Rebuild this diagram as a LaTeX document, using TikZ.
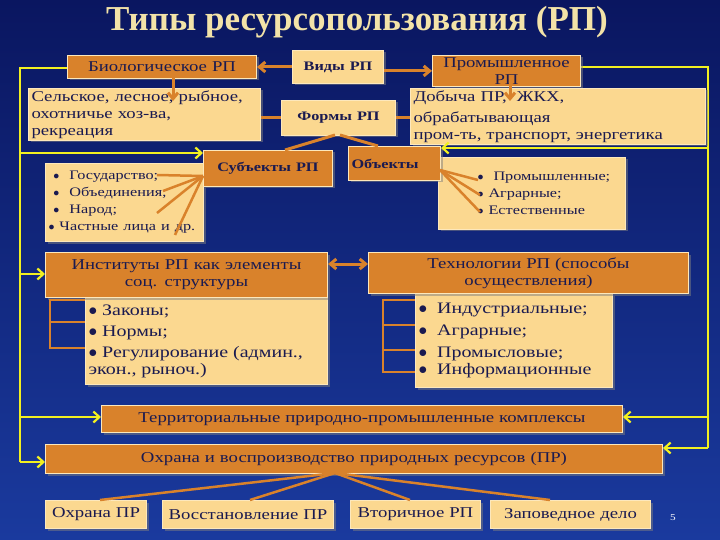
\documentclass[tikz,border=0pt]{standalone}
\usepackage{fontspec}
\setmainfont{Liberation Serif}[FakeStretch=1.25]
\newfontfamily\titlefont{Liberation Serif}
\usetikzlibrary{arrows.meta,shadows}
\definecolor{bgtop}{HTML}{0A1660}
\definecolor{bgbot}{HTML}{1A3A9E}
\definecolor{dk}{HTML}{D9822B}
\definecolor{lt}{HTML}{FBD890}
\definecolor{tx}{HTML}{1A1A50}
\definecolor{yl}{HTML}{F2F020}
\definecolor{ttl}{HTML}{F3E3A8}
\tikzset{
 bx/.style={draw=lt!60!white,line width=1pt,inner sep=2pt,anchor=north west,text=tx,font=\fontsize{15}{17}\selectfont,drop shadow={shadow xshift=2pt,shadow yshift=-2pt,opacity=0.5}},
 dkbox/.style={bx,fill=dk},
 ltbox/.style={bx,fill=lt},
 ol/.style={draw=dk,line width=3pt},
 oa/.style={ol,-{Straight Barb[length=6pt,width=10pt]}},
 yline/.style={draw=yl,line width=2.2pt},
 ya/.style={yline,-{Straight Barb[length=6pt,width=11pt]}},
}
\newcommand{\bxat}[7]{\node[#1,minimum width=#4pt,minimum height=#5pt,text width=#4pt-6pt,align=#6] (#2) at #3 {#7};}
\begin{document}
\begin{tikzpicture}[x=1pt,y=-1pt]
\shade[top color=bgtop,bottom color=bgbot] (0,0) rectangle (720,540);
\useasboundingbox (0,0) rectangle (720,540);
\node[text=ttl,font=\titlefont\fontsize{35}{38}\selectfont\bfseries] (title) at (357,22) {Типы ресурсопользования (РП)};
% yellow lines (behind)
\coordinate (yl1) at (20,68); \coordinate (yl2) at (20,462);
\coordinate (yr1) at (708,67); \coordinate (yr2) at (708,448);
\draw[yline] (67,68) -- (yl1) -- (yl2);
\draw[yline] (580,67) -- (yr1) -- (yr2);
% boxes
\bxat{dkbox}{bio}{(67,55)}{189}{23}{center}{Биологическое РП}
\bxat{ltbox}{vid}{(292,50)}{91}{33}{center}{\bfseries\fontsize{13}{15}\selectfont Виды РП}
\bxat{dkbox}{prom}{(432,55)}{148}{23}{center}{Промышленное РП}
\bxat{ltbox}{sel}{(28,88)}{232}{47}{left}{\fontsize{15}{21}\selectfont Сельское, лесное, рыбное,\\ охотничье хоз-ва, рекреация}
\bxat{ltbox}{form}{(281,100)}{114}{35}{center}{\bfseries\fontsize{13}{15}\selectfont Формы РП}
\bxat{ltbox}{dob}{(410,88)}{295}{47}{left}{\fontsize{15}{21}\selectfont Добыча ПР, \ ЖКХ, обрабатывающая\\ пром-ть, транспорт, энергетика}
\bxat{ltbox}{sbl}{(45,163)}{158}{78}{left}{\fontsize{13}{17}\selectfont\ $\bullet$\ \ Государство;\\ \ $\bullet$\ \ Объединения;\\ \ $\bullet$\ \ Народ;\\ $\bullet$ Частные лица и др.}
\bxat{dkbox}{sub}{(203,150)}{129}{36}{center}{\bfseries\fontsize{13}{15}\selectfont Субъекты РП}
\bxat{ltbox}{obl}{(438,157)}{187}{72}{left}{\fontsize{13}{17}\selectfont\hspace{36pt}$\bullet$\ \ Промышленные;\\ \hspace{36pt}$\bullet$ Аграрные;\\ \hspace{36pt}$\bullet$ Естественные}
\bxat{dkbox}{obj}{(348,146)}{92}{34}{left}{\bfseries\fontsize{13}{15}\selectfont Объекты}
\bxat{ltbox}{inb}{(85,297)}{242}{87}{left}{\fontsize{16}{21}\selectfont $\bullet$\ Законы;\\ $\bullet$\ Нормы;\\ $\bullet$\ Регулирование (админ.,\\ экон., рыноч.)}
\bxat{dkbox}{inh}{(45,252)}{282}{45}{center}{\fontsize{15}{20}\selectfont Институты РП как элементы\\ соц. структуры}
\bxat{ltbox}{teb}{(415,293)}{197}{94}{left}{\fontsize{16}{22}\selectfont $\bullet$\ \ Индустриальные;\\ $\bullet$\ \ Аграрные;\\ $\bullet$\ \ Промысловые;\\ $\bullet$\ \ Информационные}
\bxat{dkbox}{teh}{(368,252)}{320}{41}{center}{\fontsize{15}{20}\selectfont Технологии РП (способы\\ осуществления)}
\bxat{dkbox}{ter}{(101,405)}{521}{27}{center}{Территориальные природно-промышленные комплексы}
\bxat{dkbox}{ohr}{(45,444)}{617}{29}{center}{Охрана и воспроизводство природных ресурсов (ПР)}
\bxat{ltbox}{b1}{(45,500)}{101}{28}{center}{Охрана ПР}
\bxat{ltbox}{b2}{(162,500)}{171}{28}{center}{Восстановление ПР}
\bxat{ltbox}{b3}{(350,500)}{130}{28}{center}{Вторичное РП}
\bxat{ltbox}{b4}{(490,500)}{160}{28}{center}{Заповедное дело}
\node[text=white,font=\fontsize{9}{10}\selectfont] (num) at (673,518) {5};
% yellow arrows
\draw[ya] (20,153) -- (sub.west |- 0,153);
\draw[ya] (20,274) -- (inh.west |- 0,274);
\draw[ya] (20,417) -- (ter.west |- 0,417);
\draw[ya] (yl2) -- (ohr.west |- yl2);
\draw[ya] (708,148) -- (obj.east |- 0,148);
\draw[ya] (708,417) -- (ter.east |- 0,417);
\draw[ya] (yr2) -- (ohr.east |- yr2);
% orange connectors
\draw[oa] (vid.west |- bio.east) -- (bio.east);
\draw[oa] (vid.east |- prom.west) -- (prom.west);
\draw[oa] (173,78) -- (173,101);
\draw[oa] (510,78) -- (510,101);
\draw[ol] (sel.east |- form.west) -- (form.west);
\draw[ol] (form.east) -- (dob.west |- form.east);
\draw[ol] (335,135) -- (285,150);
\draw[ol] (340,135) -- (378,146);
\foreach \p in {(157,175),(163,191),(157,213),(175,235)} \draw[ol,line width=2.5pt] (203,176) -- \p;
\foreach \p in {(478,180),(480,195),(480,212)} \draw[ol,line width=2.5pt] (440,170) -- \p;
\draw[draw=dk,line width=3pt,{Straight Barb[length=6pt,width=10pt]}-{Straight Barb[length=6pt,width=10pt]}] (inh.east |- 0,264) -- (teh.west |- 0,264);
\draw[ol,line width=2.5pt] (85,300) -- (50,300) -- (50,348) -- (85,348) (50,322) -- (85,322);
\draw[ol,line width=2.5pt] (415,300) -- (383,300) -- (383,372) -- (415,372) (383,325) -- (415,325) (383,350) -- (415,350);
\foreach \q in {(100,500),(250,500),(410,500),(550,500)} \draw[ol,line width=2.5pt] (335,473) -- \q;
\end{tikzpicture}
\end{document}
